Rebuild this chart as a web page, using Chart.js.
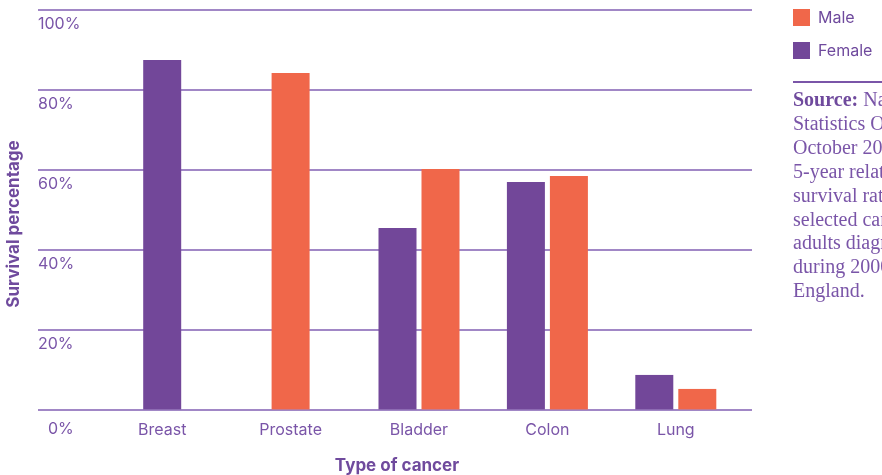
<!DOCTYPE html>
<html>
<head>
<meta charset="utf-8">
<script src="https://cdn.jsdelivr.net/npm/chart.js@4.4.1/dist/chart.umd.min.js"></script>
<style>
  html, body { margin: 0; padding: 0; background: #fff; overflow: hidden; }
  #wrap { position: relative; width: 882px; height: 475px; overflow: hidden; }
  #legend { position: absolute; left: 793px; top: 8px; font-family: Inter, sans-serif; font-size: 16px; color: #6f4a9d; }
  #legend .item { display: flex; align-items: center; height: 18px; margin-bottom: 15px; white-space: nowrap; }
  #legend .box { width: 17px; height: 17px; margin-right: 8px; }
  #source { position: absolute; left: 793px; top: 81px; width: 200px; border-top: 2px solid #7a55a8;
            padding-top: 5px; font-family: "Liberation Serif", serif; font-size: 20px; line-height: 23.9px; color: #7a55a8; white-space: nowrap; }
  #source b { color: #6f4a9d; }
</style>
</head>
<body>
<div id="wrap">
  <canvas id="survivalChart" width="882" height="475"></canvas>
  <div id="legend"></div>
  <div id="source"></div>
</div>
<script>
const categories = ["Breast", "Prostate", "Bladder", "Colon", "Lung"];
const femaleValues = [87.5, null, 45.5, 57, 8.75];
const maleValues = [null, 84.25, 60.25, 58.5, 5.25];
const yTicks = [0, 20, 40, 60, 80, 100];
const sourceLines = [
  "<b>Source:</b> National",
  "Statistics Online,",
  "October 2007.",
  "5-year relative",
  "survival rates for",
  "selected cancers in",
  "adults diagnosed",
  "during 2000-2004 in",
  "England."
];

const purple = "#724799";
const orange = "#f0674a";
const gridColor = "#a187c6";
const textColor = "#7a55a8";
const titleColor = "#6f4a9d";

// legend (Male listed first) and source note
const legendItems = [
  { label: "Male", color: orange },
  { label: "Female", color: purple }
];
document.getElementById("legend").innerHTML = legendItems
  .map(i => `<div class="item"><div class="box" style="background:${i.color}"></div>${i.label}</div>`)
  .join("");
document.getElementById("source").innerHTML = sourceLines.join("<br>");

// gridlines, y labels and axis titles drawn from the y scale
const decorPlugin = {
  id: "decor",
  beforeDatasetsDraw(chart) {
    const ctx = chart.ctx;
    const y = chart.scales.y;
    ctx.save();
    ctx.strokeStyle = gridColor;
    ctx.lineWidth = 2;
    yTicks.forEach(v => {
      const py = Math.round(y.getPixelForValue(v));
      ctx.beginPath();
      ctx.moveTo(38, py);
      ctx.lineTo(752, py);
      ctx.stroke();
    });
    ctx.restore();
  },
  afterDraw(chart) {
    const ctx = chart.ctx;
    const y = chart.scales.y;
    ctx.save();
    ctx.fillStyle = textColor;
    ctx.font = "16px Inter, sans-serif";
    ctx.textBaseline = "middle";
    ctx.textAlign = "left";
    yTicks.forEach(v => {
      const py = y.getPixelForValue(v);
      if (v === 0) {
        ctx.fillText(v + "%", 48, py + 19);
      } else {
        ctx.fillText(v + "%", 38, py + 14);
      }
    });
    ctx.fillStyle = titleColor;
    ctx.font = "bold 17px Inter, sans-serif";
    ctx.textAlign = "center";
    ctx.fillText("Type of cancer", 397, 466);
    ctx.translate(14, 224);
    ctx.rotate(-Math.PI / 2);
    ctx.fillText("Survival percentage", 0, 0);
    ctx.restore();
  }
};

const ctx = document.getElementById("survivalChart").getContext("2d");
new Chart(ctx, {
  type: "bar",
  data: {
    labels: categories,
    datasets: [
      {
        label: "Female",
        data: femaleValues,
        backgroundColor: purple,
        borderColor: "rgba(0,0,0,0)",
        borderWidth: { left: 2.5, right: 2.5, top: 0, bottom: 0 },
        borderSkipped: false,
        inflateAmount: 0,
        barThickness: 43,
        skipNull: true
      },
      {
        label: "Male",
        data: maleValues,
        backgroundColor: orange,
        borderColor: "rgba(0,0,0,0)",
        borderWidth: { left: 2.5, right: 2.5, top: 0, bottom: 0 },
        borderSkipped: false,
        inflateAmount: 0,
        barThickness: 43,
        skipNull: true
      }
    ]
  },
  options: {
    responsive: false,
    animation: false,
    layout: {
      padding: { left: 98, right: 142, top: 10, bottom: 24 }
    },
    plugins: {
      legend: { display: false },
      tooltip: { enabled: false }
    },
    scales: {
      x: {
        grid: { display: false, drawTicks: false },
        border: { display: false },
        ticks: {
          color: textColor,
          font: { family: "Inter, sans-serif", size: 16 },
          padding: 11
        }
      },
      y: {
        display: false,
        min: 0,
        max: 100
      }
    }
  },
  plugins: [decorPlugin]
});
</script>
</body>
</html>
